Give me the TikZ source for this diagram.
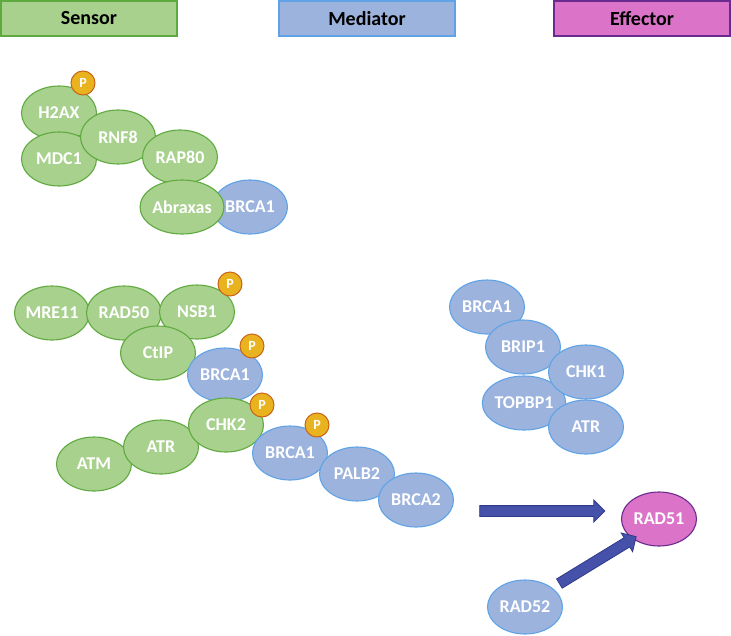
\documentclass[tikz,border=0pt]{standalone}
\usepackage{fontspec}
\setmainfont{Carlito}
\usetikzlibrary{shapes.geometric,shapes.arrows,calc}
\definecolor{gfill}{HTML}{A9D18E}
\definecolor{gline}{HTML}{5FAA3E}
\definecolor{bfill}{HTML}{9CB3DE}
\definecolor{bline}{HTML}{5FA3E6}
\definecolor{mfill}{HTML}{DB74C9}
\definecolor{mline}{HTML}{6A2A8E}
\definecolor{pfill}{HTML}{E9B31F}
\definecolor{pline}{HTML}{C8641A}
\definecolor{afill}{HTML}{4652AA}
\definecolor{aline}{HTML}{2E3A88}
\tikzset{
  prot/.style={ellipse, minimum width=75pt, minimum height=54pt, inner sep=0pt, line width=1.1pt, text=white, font=\bfseries\fontsize{18}{20}\selectfont},
  gprot/.style={prot, draw=gline, fill=gfill},
  bprot/.style={prot, draw=bline, fill=bfill},
  mprot/.style={prot, draw=mline, fill=mfill},
  phos/.style={circle, minimum size=24pt, inner sep=0pt, draw=pline, fill=pfill, line width=1pt, text=white, font=\bfseries\fontsize{14}{16}\selectfont},
  header/.style={draw, line width=1.4pt, minimum width=176pt, minimum height=35pt, inner sep=0pt, font=\bfseries\fontsize{20}{22}\selectfont},
  fatarrow/.style={single arrow, draw=aline, fill=afill, line width=0.8pt, inner sep=0pt, minimum width=21pt, single arrow head extend=5.5pt, single arrow tip angle=90, shape border uses incircle=false},
}
\begin{document}
\begin{tikzpicture}[x=1pt,y=-1pt]
\useasboundingbox (0,0) rectangle (731,635);
% headers
\node[header, draw=gline, fill=gfill] (hs) at (89,18.5) {Sensor};
\node[header, draw=bline, fill=bfill] (hm) at (367,18.5) {Mediator};
\node[header, draw=mline, fill=mfill] (he) at (642,18.5) {Effector};
% cluster 1
\node[gprot] (h2ax) at (59,113) {H2AX};
\node[gprot] (mdc1) at (59,159) {MDC1};
\node[gprot] (rnf8) at (118,137) {RNF8};
\node[gprot] (rap80) at (180,157) {RAP80};
\node[bprot] (brcaA) at (250,207) {BRCA1};
\node[gprot] (abraxas) at (182,207) {Abraxas};
\node[phos] (p1) at (83,83) {P};
% cluster 2
\node[gprot] (mre11) at (52,313) {MRE11};
\node[gprot] (rad50) at (124,313) {RAD50};
\node[gprot] (nsb1) at (197,312) {NSB1};
\node[gprot] (ctip) at (158,353) {CtIP};
\node[bprot] (brcaB) at (225,375) {BRCA1};
\node[gprot] (atm) at (94,464) {ATM};
\node[gprot] (atr) at (161,447) {ATR};
\node[gprot] (chk2) at (226,425) {CHK2};
\node[bprot] (brcaC) at (290,453) {BRCA1};
\node[bprot] (palb2) at (357,474) {PALB2};
\node[bprot] (brca2) at (416,500) {BRCA2};
\node[phos] (p2) at (230,284) {P};
\node[phos] (p3) at (252,346) {P};
\node[phos] (p4) at (262,405) {P};
\node[phos] (p5) at (317,425) {P};
% cluster 3
\node[bprot] (brcaD) at (487,307) {BRCA1};
\node[bprot] (brip1) at (523,347) {BRIP1};
\node[bprot] (topbp1) at (524,403) {TOPBP1};
\node[bprot] (chk1) at (586,372) {CHK1};
\node[bprot] (atrB) at (586,427) {ATR};
% effector
\node[mprot] (rad51) at (659,519) {RAD51};
\node[bprot] (rad52) at (525,607) {RAD52};
% arrows
\coordinate (a1s) at (477,511);
\coordinate (a1e) at (602,511);
\node[fatarrow, minimum height=125pt, inner ysep=5pt] (arr1) at ($(a1s)!0.5!(a1e)$) {};
\coordinate (a2s) at (557,585);
\coordinate (a2e) at (634,538);
\node[fatarrow, minimum height=90pt, inner ysep=5pt, rotate=31.4] (arr2) at ($(a2s)!0.5!(a2e)$) {};
\end{tikzpicture}
\end{document}
